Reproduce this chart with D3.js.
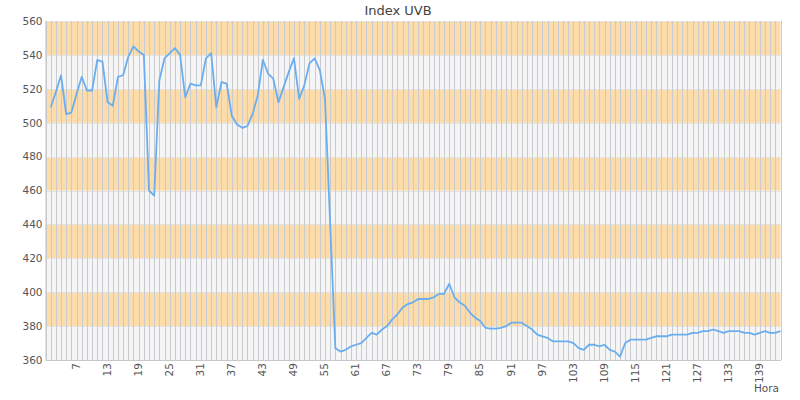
<!DOCTYPE html>
<html>
<head>
<meta charset="utf-8">
<script src="https://cdn.jsdelivr.net/npm/d3@7"></script>
<style>
  html, body { margin: 0; padding: 0; background: #fff; }
  svg { display: block; font-family: "DejaVu Sans", sans-serif; }
</style>
</head>
<body>
<svg id="chart" width="800" height="400"></svg>
<script>
// ---- data ----
const title = "Index UVB";
const xTitle = "Hora";
const hours = d3.range(1, 144); // category labels 1..143
const uvb = [
  null, 509, 518, 528, 505, 506, 517, 527, 519, 519,
  537, 536, 512, 510, 527, 528, 539, 545, 542, 540,
  460, 457, 525, 538, 541, 544, 540, 515, 523, 522,
  522, 538, 541, 509, 524, 523, 504, 499, 497, 498,
  505, 516, 537, 529, 526, 512, 521, 530, 538, 514,
  522, 535, 538, 531, 514, 440, 367, 365, 366, 368,
  369, 370, 373, 376, 375, 378, 380, 384, 387, 391,
  393, 394, 396, 396, 396, 397, 399, 399, 405, 397,
  394, 392, 388, 385, 383, 379, 378.5, 378.5, 379, 380,
  382, 382, 382, 380, 378, 375, 374, 373, 371, 371,
  371, 371, 370, 367, 366, 369, 369, 368, 369, 366,
  365, 362, 370, 372, 372, 372, 372, 373, 374, 374,
  374, 375, 375, 375, 375, 376, 376, 377, 377, 378,
  377, 376, 377, 377, 377, 376, 376, 375, 376, 377,
  376, 376, 377
];
const xTickLabels = [7, 13, 19, 25, 31, 37, 43, 49, 55, 61, 67, 73, 79, 85, 91, 97, 103, 109, 115, 121, 127, 133, 139];
const yTicks = [360, 380, 400, 420, 440, 460, 480, 500, 520, 540, 560];

// ---- layout ----
const svg = d3.select("#chart");
const pLeft = 45.5, pRight = 780.5, pTop = 21, pBottom = 360;

const x = d3.scaleLinear().domain([1, 143]).range([pLeft, pRight]);
const y = d3.scaleLinear().domain([360, 560]).range([pBottom, pTop]);

// bands
const bandStarts = yTicks.slice(0, -1);
svg.append("g").selectAll("rect").data(bandStarts).join("rect")
  .attr("x", pLeft).attr("width", pRight - pLeft)
  .attr("y", d => y(d + 20)).attr("height", d => y(d) - y(d + 20))
  .attr("fill", d => ((d / 20) % 2 === 1) ? "#fddcab" : "#f5f5f5");

// horizontal grid
svg.append("g").selectAll("line").data(yTicks).join("line")
  .attr("x1", pLeft).attr("x2", pRight)
  .attr("y1", d => Math.round(y(d)) + 0.5).attr("y2", d => Math.round(y(d)) + 0.5)
  .attr("stroke", "#e4e4e4").attr("stroke-width", 1);

// vertical grid
svg.append("g").selectAll("line").data(hours).join("line")
  .attr("x1", d => Math.round(x(d)) + 0.5).attr("x2", d => Math.round(x(d)) + 0.5)
  .attr("y1", pTop).attr("y2", pBottom)
  .attr("stroke", "#c8cbd0").attr("stroke-width", 1);

// axes
const yAxis = d3.axisLeft(y).tickValues(yTicks).tickSize(0).tickPadding(3);
const gy = svg.append("g").attr("transform", `translate(${pLeft},0)`).call(yAxis);
gy.select(".domain").attr("stroke", "#c8c8c8");
gy.selectAll("text").attr("fill", "#555").style("font-size", "10.5px")
  .style("font-family", "DejaVu Sans, sans-serif");

const xAxis = d3.axisBottom(x).tickValues(xTickLabels).tickSize(0).tickPadding(0);
const gx = svg.append("g").attr("transform", `translate(0,${pBottom})`).call(xAxis);
gx.select(".domain").attr("stroke", "#c8c8c8");
gx.selectAll("text")
  .attr("fill", "#555").style("font-size", "10.5px")
  .style("font-family", "DejaVu Sans, sans-serif")
  .attr("text-anchor", "end")
  .attr("transform", "rotate(-90)")
  .attr("x", -3).attr("y", -1).attr("dy", "0.35em");

// line
const line = d3.line()
  .defined(d => d.v !== null)
  .x(d => x(d.h)).y(d => y(d.v));
const series = hours.map((h, i) => ({ h, v: uvb[i] }));
svg.append("path").datum(series)
  .attr("d", line)
  .attr("fill", "none")
  .attr("stroke", "#6aaef0")
  .attr("stroke-width", 1.8)
  .attr("stroke-linejoin", "round");

// title
svg.append("text").attr("x", 398).attr("y", 15)
  .attr("text-anchor", "middle").attr("fill", "#444")
  .style("font-size", "13px").text(title);

// x axis title
svg.append("text").attr("x", 779).attr("y", 392)
  .attr("text-anchor", "end").attr("fill", "#555")
  .style("font-size", "10.5px").text(xTitle);
</script>
</body>
</html>
